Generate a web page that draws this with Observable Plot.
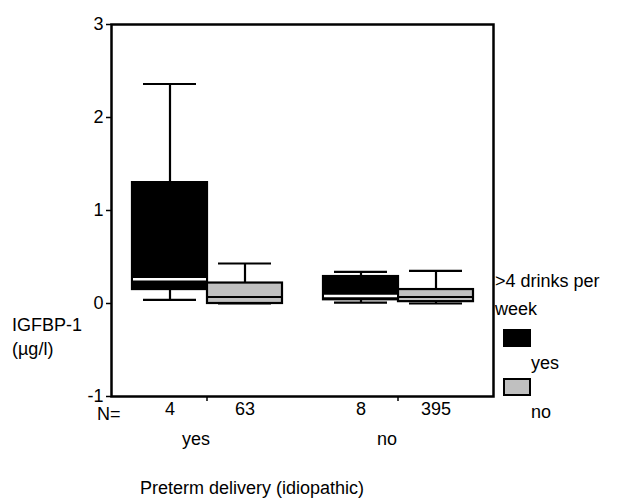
<!DOCTYPE html>
<html>
<head>
<meta charset="utf-8">
<script src="https://cdn.jsdelivr.net/npm/d3@7"></script>
<script src="https://cdn.jsdelivr.net/npm/@observablehq/plot@0.6"></script>
<style>
  html, body { margin: 0; padding: 0; background: white; }
  #wrap { position: relative; width: 621px; height: 498px; font-family: "Liberation Sans", Arial, sans-serif; font-size: 18px; color: black; }
  #wrap svg { position: absolute; left: 0; top: 0; }
  .lbl { position: absolute; white-space: nowrap; line-height: 1; }
  .sw { position: absolute; box-sizing: border-box; }
</style>
</head>
<body>
<div id="wrap"></div>
<script>
// ---- data ----
const pretermGroups = ["yes", "no"];          // Preterm delivery (idiopathic)
const drinkGroups = ["yes", "no"];            // >4 drinks per week
const preterm   = ["yes", "yes", "no", "no"];
const drinks    = ["yes", "no", "yes", "no"];
const nCounts   = [4, 63, 8, 395];
const whiskerLo = [0.04, 0.00, 0.01, 0.00];
const q1        = [0.15, 0.00, 0.04, 0.02];
const median    = [0.26, 0.07, 0.08, 0.07];
const q3        = [1.30, 0.22, 0.29, 0.15];
const whiskerHi = [2.36, 0.43, 0.34, 0.35];
const yTicks    = [-1, 0, 1, 2, 3];

const rows = preterm.map((p, i) => ({
  preterm: p, drinks: drinks[i], n: nCounts[i],
  lo: whiskerLo[i], q1: q1[i], median: median[i], q3: q3[i], hi: whiskerHi[i]
}));

const font = "Liberation Sans, Arial, sans-serif";

const chart = Plot.plot({
  width: 621,
  height: 498,
  marginTop: 24,
  marginRight: 128,
  marginBottom: 102,
  marginLeft: 111,
  style: { fontFamily: font, fontSize: "18px", color: "black", background: "white", overflow: "visible" },
  fx: { domain: pretermGroups, paddingInner: 0, paddingOuter: 0, axis: null, label: null },
  x: { domain: drinkGroups, paddingInner: 0, paddingOuter: 0.2566, axis: null },
  y: { domain: [-1, 3], axis: null },
  color: { domain: drinkGroups, range: ["black", "#c0c0c0"] },
  marks: [
    Plot.frame({ facet: "super", stroke: "black", strokeWidth: 2.5 }),
    Plot.axisY({ ticks: yTicks, tickSize: 5, tickPadding: 3, tickFormat: d => String(d), label: null, fontSize: 18, strokeWidth: 1.5 }),
    Plot.axisFx({ anchor: "bottom", tickSize: 5, tickFormat: () => "", label: null, strokeWidth: 1.5 }),
    Plot.text(pretermGroups, { fx: d => d, text: d => d, frameAnchor: "bottom", dy: 48, dx: -11, fontSize: 18 }),
    Plot.ruleX(rows, { fx: "preterm", x: "drinks", y1: "q3", y2: "hi", stroke: "black", strokeWidth: 2.2 }),
    Plot.ruleX(rows, { fx: "preterm", x: "drinks", y1: "lo", y2: "q1", stroke: "black", strokeWidth: 2.2 }),
    Plot.tickY(rows, { fx: "preterm", x: "drinks", y: "hi", insetLeft: 11, insetRight: 11, stroke: "black", strokeWidth: 2.2 }),
    Plot.tickY(rows, { fx: "preterm", x: "drinks", y: "lo", insetLeft: 11, insetRight: 11, stroke: "black", strokeWidth: 2.2 }),
    Plot.barY(rows, { fx: "preterm", x: "drinks", y1: "q1", y2: "q3", fill: "drinks", stroke: "black", strokeWidth: 2.2 }),
    Plot.tickY(rows, { fx: "preterm", x: "drinks", y: "median", filter: d => d.drinks === "yes", stroke: "white", strokeWidth: 2.5, insetLeft: 1, insetRight: 1 }),
    Plot.tickY(rows, { fx: "preterm", x: "drinks", y: "median", filter: d => d.drinks === "no", stroke: "black", strokeWidth: 2.2 }),
    Plot.text(rows, { fx: "preterm", x: "drinks", text: "n", frameAnchor: "bottom", dy: 18, fontSize: 18 })
  ]
});

const wrap = document.getElementById("wrap");
wrap.appendChild(chart);

function label(text, left, top) {
  const d = document.createElement("div");
  d.className = "lbl";
  d.textContent = text;
  d.style.left = left + "px";
  d.style.top = top + "px";
  wrap.appendChild(d);
  return d;
}
function swatch(left, top, fill) {
  const d = document.createElement("div");
  d.className = "sw";
  d.style.left = left + "px";
  d.style.top = top + "px";
  d.style.width = "28px";
  d.style.height = "18px";
  d.style.background = fill;
  d.style.border = "2px solid black";
  wrap.appendChild(d);
}

label("N=", 97, 405);
label("IGFBP-1", 12, 316);
label("(µg/l)", 12, 340);
label("Preterm delivery (idiopathic)", 140, 479);
label(">4 drinks per", 495, 272);
label("week", 495, 300);
swatch(503, 329, "black");
label("yes", 531, 354);
swatch(503, 378, "#c0c0c0");
label("no", 531, 403);
</script>
</body>
</html>
